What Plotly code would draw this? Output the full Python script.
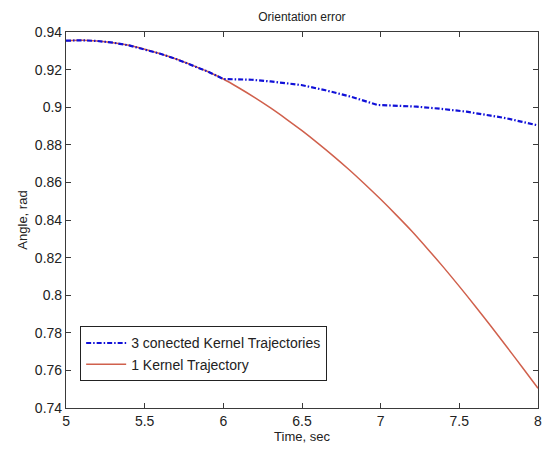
import plotly.graph_objects as go

# Time samples (sec)
t_red = [5.0, 5.1, 5.2, 5.3, 5.4, 5.5, 5.6, 5.7, 5.8, 5.9, 6.0,
         6.1, 6.2, 6.3, 6.4, 6.5, 6.6, 6.7, 6.8, 6.9, 7.0,
         7.1, 7.2, 7.3, 7.4, 7.5, 7.6, 7.7, 7.8, 7.9, 8.0]
a_red = [0.9354, 0.9356, 0.9352, 0.9343, 0.9329, 0.9308, 0.9284, 0.9256, 0.9224, 0.9190, 0.9150,
         0.9102, 0.9051, 0.8996, 0.8937, 0.8875, 0.8809, 0.8740, 0.8667, 0.8590, 0.8510,
         0.8426, 0.8339, 0.8245, 0.8148, 0.8047, 0.7943, 0.7836, 0.7727, 0.7617, 0.7505]

t_blue = [5.0, 5.1, 5.2, 5.3, 5.4, 5.5, 5.6, 5.7, 5.8, 5.9, 6.0, 6.05, 6.18, 6.3, 6.495, 6.65, 6.81,
          6.98, 7.05, 7.23, 7.4, 7.546, 7.7, 7.8, 7.9, 8.0]
a_blue = [0.9354, 0.9356, 0.9352, 0.9343, 0.9329, 0.9308, 0.9284, 0.9256, 0.9224, 0.9190, 0.9150, 0.9150,
          0.9146, 0.9137, 0.9118, 0.9090, 0.9056, 0.9012, 0.9010, 0.9003, 0.8990, 0.8976, 0.8955, 0.8941,
          0.8922, 0.8903]

x_ticks = [5, 5.5, 6, 6.5, 7, 7.5, 8]
y_ticks = [0.74, 0.76, 0.78, 0.8, 0.82, 0.84, 0.86, 0.88, 0.9, 0.92, 0.94]
y_tick_labels = ["0.74", "0.76", "0.78", "0.8", "0.82", "0.84", "0.86", "0.88", "0.9", "0.92", "0.94"]

FONT = "Liberation Sans, Arial, sans-serif"

fig = go.Figure()
fig.add_trace(go.Scatter(x=t_red, y=a_red, mode="lines", name="1 Kernel Trajectory",
                         line=dict(color="#d0604c", width=1.5, shape="spline", smoothing=0.6)))
fig.add_trace(go.Scatter(x=t_blue, y=a_blue, mode="lines", name="3 conected Kernel Trajectories",
                         line=dict(color="#1010d8", width=2.2, dash="5px,2px,1.5px,2px")))

axis_common = dict(showgrid=False, zeroline=False, showline=True, linecolor="#3a3a3a", linewidth=1.2,
                   mirror="ticks", ticks="inside", ticklen=5, tickcolor="#3a3a3a",
                   ticklabeloverflow="allow",
                   tickfont=dict(family=FONT, size=14, color="#222"))

fig.update_layout(
    width=544, height=450,
    margin=dict(l=66, r=2, t=32, b=42),
    paper_bgcolor="white", plot_bgcolor="white",
    title=dict(text="Orientation error", x=0.555, xanchor="center", y=0.963, yanchor="middle",
               font=dict(family=FONT, size=12, color="#222")),
    xaxis=dict(range=[4.9999, 8.0001], tickvals=x_ticks, ticktext=[str(v) for v in x_ticks],
               title=dict(text="Time, sec", standoff=1,
                          font=dict(family=FONT, size=13, color="#222")),
               **axis_common),
    yaxis=dict(range=[0.74, 0.94], tickvals=y_ticks, ticktext=y_tick_labels,
               title=dict(text="Angle, rad", standoff=4,
                          font=dict(family=FONT, size=13, color="#222")),
               **axis_common),
    legend=dict(x=0.03, y=0.217, xanchor="left", yanchor="top", traceorder="reversed",
                bgcolor="white", bordercolor="#222", borderwidth=1,
                font=dict(family=FONT, size=14, color="#222"),
                tracegroupgap=0, itemwidth=40),
    showlegend=True,
)

fig.write_html("out.html")
